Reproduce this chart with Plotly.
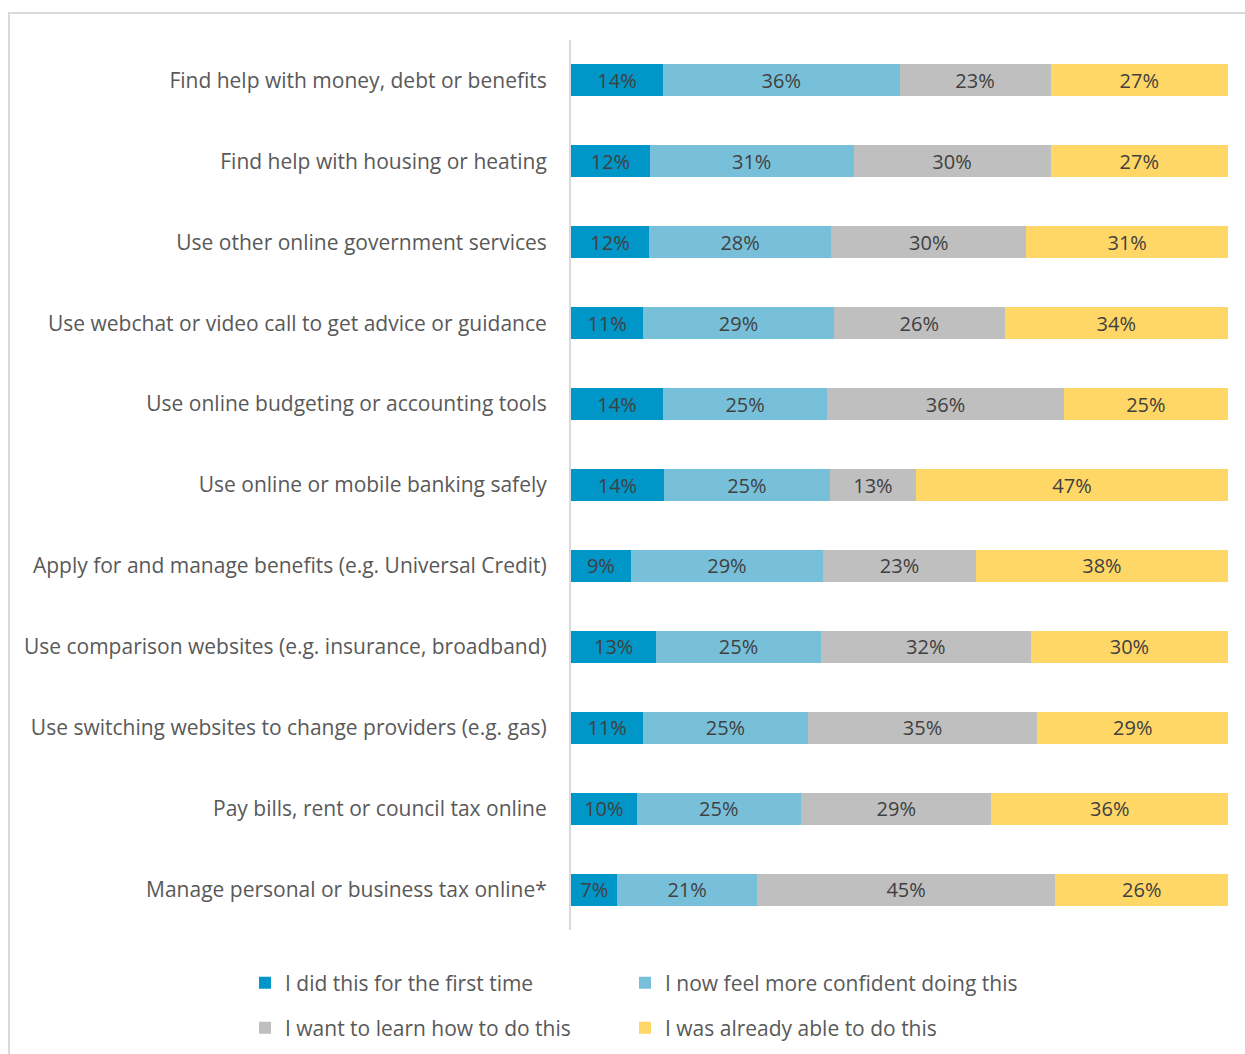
import plotly.graph_objects as go

# Survey items, top to bottom
activities = [
    "Find help with money, debt or benefits",
    "Find help with housing or heating",
    "Use other online government services",
    "Use webchat or video call to get advice or guidance",
    "Use online budgeting or accounting tools",
    "Use online or mobile banking safely",
    "Apply for and manage benefits (e.g. Universal Credit)",
    "Use comparison websites (e.g. insurance, broadband)",
    "Use switching websites to change providers (e.g. gas)",
    "Pay bills, rent or council tax online",
    "Manage personal or business tax online*",
]

first_time = [14, 12, 12, 11, 14, 14, 9, 13, 11, 10, 7]
more_confident = [36, 31, 28, 29, 25, 25, 29, 25, 25, 25, 21]
want_to_learn = [23, 30, 30, 26, 36, 13, 23, 32, 35, 29, 45]
already_able = [27, 27, 31, 34, 25, 47, 38, 30, 29, 36, 26]

series_names = [
    "I did this for the first time",
    "I now feel more confident doing this",
    "I want to learn how to do this",
    "I was already able to do this",
]
series_values = [first_time, more_confident, want_to_learn, already_able]
series_colors = ["#0096C8", "#78C0DA", "#BFBFBF", "#FED766"]

W, H = 1245, 1054
ml, mr, mt, mb = 571, 17, 40, 124
pw, ph = W - ml - mr, H - mt - mb

# legend grid: two columns, two rows (pixel anchors in the page)
legend_cols = [245, 625]
legend_rows = [983, 1028]

FONT = "'Open Sans', Lato, sans-serif"

fig = go.Figure()
for i, (name, vals, color) in enumerate(zip(series_names, series_values, series_colors)):
    fig.add_trace(go.Bar(
        name=name,
        y=activities,
        x=vals,
        orientation="h",
        marker=dict(color=color, line=dict(width=0)),
        width=0.395,
        text=[f"{v}%" for v in vals],
        textposition="inside",
        insidetextanchor="middle",
        textangle=0,
        constraintext="none",
        textfont=dict(family=FONT, size=20, color="#404040"),
        legend="legend" if i == 0 else f"legend{i + 1}",
        hoverinfo="skip",
    ))


def px_x(px):
    return (px - ml) / pw


def px_y(py):
    return (H - mb - py) / ph


legend_common = dict(
    orientation="h",
    xref="container",
    yref="container",
    xanchor="left",
    yanchor="middle",
    font=dict(family=FONT, size=21, color="#595959"),
    bgcolor="rgba(0,0,0,0)",
    itemclick=False,
    itemdoubleclick=False,
)

legends = {}
for i in range(4):
    key = "legend" if i == 0 else f"legend{i + 1}"
    legends[key] = dict(
        x=legend_cols[i % 2] / W,
        y=1 - legend_rows[i // 2] / H,
        **legend_common,
    )

fig.update_layout(
    width=W,
    height=H,
    margin=dict(l=ml, r=mr, t=mt, b=mb),
    barmode="stack",
    barnorm="percent",
    plot_bgcolor="white",
    paper_bgcolor="white",
    font=dict(family=FONT, size=21, color="#595959"),
    xaxis=dict(range=[0, 100], visible=False, fixedrange=True),
    yaxis=dict(
        categoryorder="array",
        categoryarray=activities[::-1],
        showline=True,
        linecolor="#D9D9D9",
        linewidth=2,
        showgrid=False,
        ticks="",
        ticklabelstandoff=18,
        tickfont=dict(family=FONT, size=21, color="#595959"),
        fixedrange=True,
    ),
    showlegend=True,
    shapes=[
        # outer chart frame
        dict(
            type="rect",
            xref="paper", yref="paper",
            x0=px_x(9), x1=px_x(1252),
            y0=px_y(1062), y1=px_y(13),
            line=dict(color="#D9D9D9", width=2),
            fillcolor="rgba(0,0,0,0)",
            layer="below",
        )
    ],
    **legends,
)

fig.write_html("out.html")
